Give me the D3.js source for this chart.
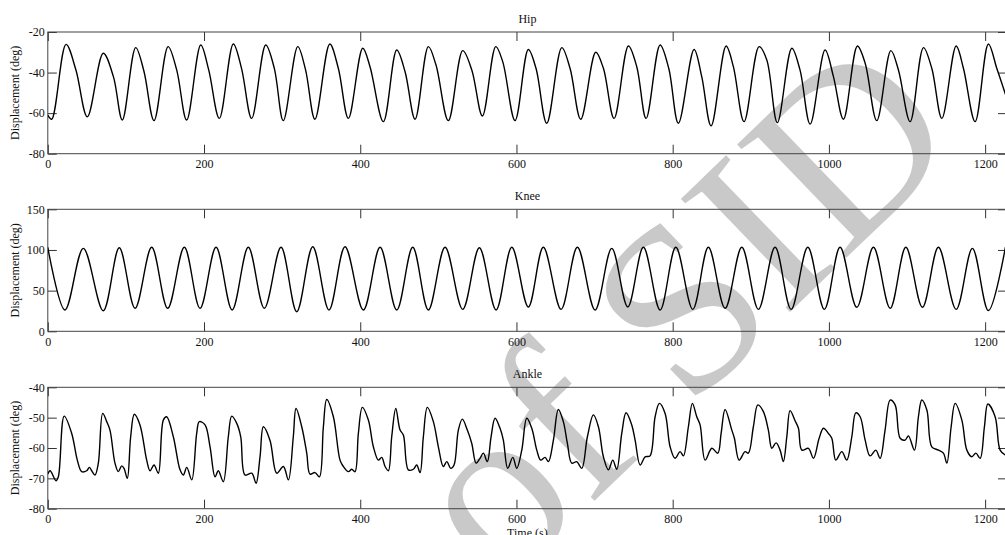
<!DOCTYPE html>
<html>
<head>
<meta charset="utf-8">
<script src="https://cdn.jsdelivr.net/npm/d3@7"></script>
<style>
  html, body { margin: 0; padding: 0; background: #fff; overflow: hidden; }
  svg { display: block; }
  .tick text { font-family: 'Liberation Serif', 'DejaVu Serif', serif; font-size: 12px; fill: #111; }
</style>
</head>
<body>
<div id="chart"></div>
<script>
// time axis ticks (s)
const xTicks = [0, 200, 400, 600, 800, 1000, 1200];

// Hip: peaks, shoulders and troughs
const hipTime = [0, 5, 23.3, 36, 50.6, 71, 84, 95.4, 112.5, 123, 136, 154, 165, 177.8, 195.8, 206, 219.6,
  237.5, 248, 261, 279, 290, 301.5, 320, 330, 342, 361, 372, 384.8, 403.2, 412.5, 429.6, 446.7, 457.4,
  470.2, 487.2, 497, 512.8, 531.2, 542.8, 556.4, 573.5, 582.4, 598.2, 615.2, 625, 638.8, 658, 668.6,
  682.3, 701.5, 711.3, 725, 743.3, 754, 766, 783.9, 795, 807.3, 827.4, 837.2, 849.2, 868.4, 877.7,
  891.4, 910.6, 920.5, 934, 952.5, 963, 976, 995.1, 1005.8, 1018.6, 1036.5, 1046.4, 1061.3, 1079.3,
  1089, 1104, 1121, 1131.7, 1144.6, 1162.9, 1172.2, 1187.2, 1204.2, 1215, 1228];
const hipDeg = [-61, -63, -26.1, -38.7, -61.8, -30.5, -42, -63.4, -27.7, -39.2, -63.7, -27.2, -38.7, -63.4,
  -26.4, -38.7, -62.6, -25.9, -37.9, -62.6, -26.4, -37.9, -63.7, -27.2, -38.7, -63, -25.9, -38, -62.6,
  -28, -37.1, -64.2, -28.9, -39.6, -63, -27.2, -36.3, -63.7, -29.2, -38.7, -61.4, -27.2, -34.6, -63.7,
  -28.6, -37.9, -65, -27.7, -37.9, -63, -30, -37.9, -62.6, -26.9, -37.1, -62.6, -26.4, -38, -65, -28.6,
  -42, -66.3, -26.9, -37.1, -64.2, -27.2, -33.8, -64.7, -28, -38.7, -65.4, -28.9, -42, -63, -26.9,
  -35.4, -63.7, -29.2, -38.7, -64.2, -27.7, -37.9, -62.6, -26.9, -37.9, -64.2, -25.9, -38, -53];

// Knee: alternating peaks and troughs
const kneeTime = [0, 22, 45.5, 71, 91.5, 111.7, 133, 153.5, 174.8, 194.9, 215.4, 236, 256.7, 277.2, 298.6,
  318.7, 339.2, 360, 380.5, 404, 425.4, 446.7, 467.2, 487.2, 508.6, 531.2, 552.5, 573.9, 594, 615.2,
  634.4, 657.1, 678, 700.6, 722, 742.5, 762.5, 783.9, 804, 825.7, 845.7, 867.1, 888.5, 909.7, 931.1,
  951.6, 973, 994.2, 1014.3, 1035.7, 1057, 1078.4, 1098.5, 1119.7, 1140.2, 1162.9, 1183.7, 1204.2, 1226];
const kneeDeg = [103.3, 26.2, 102, 25.3, 102.8, 28.3, 103.3, 28.3, 103.3, 28.3, 103.3, 26.2, 103.3, 28.3,
  103.3, 24.1, 104, 26.2, 104, 26.2, 103.3, 26.2, 103.3, 26.2, 103.3, 27, 102.8, 26.2, 103.3, 29.9,
  103.3, 27, 103.3, 26.2, 102, 29.9, 103.3, 26.2, 103.3, 27, 103.3, 28.3, 103.3, 27, 103.3, 27, 103.3,
  27, 103.3, 29.5, 103.3, 28.3, 103.3, 29.5, 103.3, 27, 102, 25.5, 103.5];

// Ankle: irregular waveform
const ankleTime = [0, 3, 10.5, 13.5, 21, 30.6, 37.8, 43.4, 49.8, 53.2, 56.2, 60.4, 64.7, 70.3, 75.4, 79.6,
  86, 90.3, 94.6, 97.6, 101.8, 106.1, 110.8, 118, 126.6, 130.9, 136, 141.5, 147.9, 152.2, 160.7, 169.3,
  173.5, 177.9, 184.3, 190.6, 194, 201.3, 207.7, 214.1, 218.3, 224.7, 231.1, 235.5, 241.9, 247, 252.5,
  261.1, 266.6, 271.7, 276, 284.5, 293.1, 301.6, 308, 314.3, 317.8, 325.1, 331.5, 335.7, 342.1, 347.7,
  352.8, 357.1, 365.6, 374.1, 378.4, 384.8, 389.1, 393.3, 397.6, 402.7, 410.4, 416.8, 423.2, 427.5,
  431.8, 436, 440.3, 445.5, 451, 455.2, 461.6, 468, 472.3, 476.6, 480.8, 485.9, 493.6, 500, 506.4,
  510.8, 515.9, 520.1, 525.6, 530.7, 537.1, 542.8, 548.3, 553.4, 557.6, 562.7, 567.5, 572.6, 579, 583.2,
  588.8, 595.3, 600.4, 606.8, 613.2, 619.6, 626, 631.1, 636.6, 640.9, 647.3, 653.6, 660, 665.2, 670.8,
  677.2, 683.6, 690.8, 698.5, 704.9, 711.3, 717.7, 723.3, 728.4, 734.8, 740.3, 747.6, 751.9, 758.3,
  764.7, 771, 777.5, 783, 790.3, 796.7, 803, 809.5, 813.7, 820.1, 825.2, 830.8, 835.1, 841.5, 850.1,
  857.7, 862, 867.1, 875.7, 879, 885, 892.7, 896.9, 903.3, 909, 916.1, 922.5, 926.9, 932.4, 937.5,
  941.7, 946.1, 950.3, 956.7, 961, 965.3, 973.8, 980.2, 987.5, 993, 999.4, 1003.7, 1008.8, 1016.5,
  1022.9, 1029.3, 1034.4, 1040, 1046.4, 1052.7, 1060, 1065.6, 1071.9, 1078.4, 1084.8, 1091.2, 1097.6,
  1101.8, 1109.5, 1114.6, 1118.9, 1125.4, 1131.7, 1140.2, 1146.6, 1151, 1156.5, 1161.6, 1170.2,
  1176.6, 1183, 1188.1, 1193.6, 1199.1, 1203.5, 1212.8, 1219.2, 1225.6];
const ankleDeg = [-68.6, -67.5, -70.8, -69.5, -49.5, -55.2, -64, -67.8, -67.5, -66.4, -67.5, -68.9, -65,
  -48.6, -51.3, -54.1, -65, -67.8, -65.9, -66.7, -70, -56.3, -48.9, -52.4, -64, -67.5, -65.6, -68.3,
  -50.8, -49.7, -56.3, -67.2, -68.9, -66.4, -70.5, -55.2, -51.3, -52.4, -59.6, -69.5, -67.5, -71.1,
  -56.3, -49.5, -51.9, -56.3, -68.9, -68.3, -71.6, -62.9, -53, -57.5, -68.3, -66.1, -70.5, -56.3, -47,
  -53, -61.7, -68.6, -68.1, -69.5, -53, -44, -49.7, -64, -66.1, -67.8, -67, -67.8, -55.2, -46.6, -50.8,
  -59.6, -64, -63.1, -66.1, -67.5, -56.3, -47, -54.1, -55.7, -67.2, -67, -65.6, -68.1, -56.3, -46.6,
  -51.3, -59.6, -66.1, -64.5, -66.7, -65.6, -54.1, -50.5, -54.1, -58.5, -65, -63.4, -61.7, -64.5,
  -56.3, -50.2, -53.5, -57.4, -66.7, -63.1, -66.7, -60.7, -50.2, -53.5, -60.7, -64, -63.1, -64.5,
  -57.4, -47.3, -51.3, -58.5, -65, -64.5, -66.7, -56.3, -49.1, -53, -62.9, -67.2, -64, -67, -55.2,
  -48.4, -52.4, -57.4, -65.6, -62.9, -62.6, -49.7, -45.3, -48.6, -59.6, -63.4, -61.2, -62.6, -53,
  -45.3, -49.7, -52.4, -64, -60.1, -61.7, -55.2, -47.3, -54.1, -56.8, -64, -61.2, -61.7, -53, -45.8,
  -48, -54.1, -60.1, -58.3, -60.7, -64.5, -56.3, -47.7, -51, -53.5, -60.7, -60.1, -63.4, -56.8, -53.5,
  -55.2, -56.8, -64, -61.2, -64, -56.3, -48.4, -49.7, -57.4, -62.6, -60.7, -63.4, -54.1, -44.2, -45.8,
  -56.8, -57.4, -56, -60.7, -49.7, -44.2, -47.5, -59.6, -60.7, -61.7, -65, -53, -45.3, -50.8, -60.7,
  -62.9, -61.7, -63.4, -53, -45.5, -49.7, -60.7, -62.3];

const hipTicks = [-20, -40, -60, -80];
const kneeTicks = [0, 50, 100, 150];
const ankleTicks = [-40, -50, -60, -70, -80];

const width = 1005;
const height = 535;
const left = 47.8;
const right = 1007;
const serif = "'Liberation Serif', 'DejaVu Serif', serif";
const plain = (d) => String(d); // keep ascii hyphen, no thousands comma

const panels = [
  { title: 'Hip', time: hipTime, deg: hipDeg, domain: [-80, -20], ticks: hipTicks, top: 32, bottom: 153.7 },
  { title: 'Knee', time: kneeTime, deg: kneeDeg, domain: [0, 150], ticks: kneeTicks, top: 209.3, bottom: 331.3 },
  { title: 'Ankle', time: ankleTime, deg: ankleDeg, domain: [-80, -40], ticks: ankleTicks, top: 387.3, bottom: 508.7 }
];

const svg = d3.select('#chart')
  .append('svg')
  .attr('width', width)
  .attr('height', height);

// watermark
svg.append('text')
  .attr('transform', 'translate(966,142) rotate(-44)')
  .attr('text-anchor', 'end')
  .attr('font-family', serif)
  .attr('font-size', 240)
  .attr('fill', '#c9c9c9')
  .text('Archive of SID');

const x = d3.scaleLinear().domain([0, 1228]).range([left, right]);

panels.forEach((p, i) => {
  const y = d3.scaleLinear().domain(p.domain).range([p.bottom, p.top]);
  const g = svg.append('g');

  const clipId = 'clip' + i;
  svg.append('clipPath').attr('id', clipId)
    .append('rect')
    .attr('x', left).attr('y', p.top)
    .attr('width', right - left).attr('height', p.bottom - p.top);

  const axisStyle = (sel) => {
    sel.select('.domain').remove();
    sel.selectAll('.tick line').attr('stroke', '#333');
  };

  g.append('g')
    .attr('transform', `translate(0,${p.bottom})`)
    .call(d3.axisBottom(x).tickValues(xTicks).tickFormat(plain).tickSize(-9).tickPadding(6))
    .call(axisStyle);

  g.append('g')
    .attr('transform', `translate(0,${p.top})`)
    .call(d3.axisTop(x).tickValues(xTicks).tickSize(-9).tickFormat(''))
    .call(axisStyle);

  g.append('g')
    .attr('transform', `translate(${left},0)`)
    .call(d3.axisLeft(y).tickValues(p.ticks).tickFormat(plain).tickSize(-9).tickPadding(3))
    .call(axisStyle);

  g.append('g')
    .attr('transform', `translate(${right},0)`)
    .call(d3.axisRight(y).tickValues(p.ticks).tickSize(-9).tickFormat(''))
    .call(axisStyle);

  g.append('rect')
    .attr('x', left).attr('y', p.top)
    .attr('width', right - left).attr('height', p.bottom - p.top)
    .attr('fill', 'none')
    .attr('stroke', '#444')
    .attr('stroke-width', 1);

  const line = d3.line()
    .x((d, j) => x(p.time[j]))
    .y((d) => y(d))
    .curve(d3.curveCatmullRom.alpha(0.5));

  g.append('path')
    .datum(p.deg)
    .attr('clip-path', `url(#${clipId})`)
    .attr('d', line)
    .attr('fill', 'none')
    .attr('stroke', '#000')
    .attr('stroke-width', 1.4)
    .attr('stroke-linejoin', 'round');

  g.append('text')
    .attr('x', (left + right) / 2)
    .attr('y', p.top - 9)
    .attr('text-anchor', 'middle')
    .attr('font-family', serif)
    .attr('font-size', 12)
    .attr('fill', '#111')
    .text(p.title);

  g.append('text')
    .attr('transform', `translate(15,${(p.top + p.bottom) / 2}) rotate(-90)`)
    .attr('dy', '0.35em')
    .attr('text-anchor', 'middle')
    .attr('font-family', serif)
    .attr('font-size', 12)
    .attr('fill', '#111')
    .text('Displacement (deg)');
});

svg.append('text')
  .attr('x', (left + right) / 2)
  .attr('y', 537)
  .attr('text-anchor', 'middle')
  .attr('font-family', serif)
  .attr('font-size', 12)
  .attr('fill', '#111')
  .text('Time (s)');
</script>
</body>
</html>
